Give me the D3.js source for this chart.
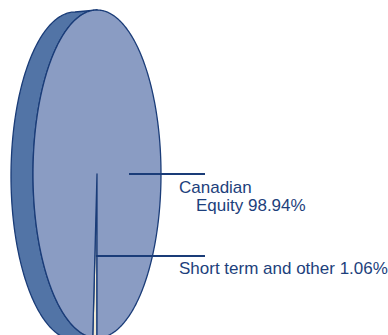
<!DOCTYPE html>
<html>
<head>
<meta charset="utf-8">
<script src="https://cdn.jsdelivr.net/npm/d3@7/dist/d3.min.js"></script>
<style>
  html, body { margin: 0; padding: 0; background: #ffffff; }
  svg { display: block; }
  text { font-family: "Liberation Sans", Arial, sans-serif; font-size: 17px; fill: #1d3f7c; }
</style>
</head>
<body>
<svg id="chart" width="388" height="335"></svg>
<script>
// Portfolio allocation
const categories = ["Short term and other", "Canadian Equity"];
const values = [1.06, 98.94];
const labelLines = [["Short term and other 1.06%"], ["Canadian", "Equity 98.94%"]];

const W = 388, H = 335;
const svg = d3.select("#chart");

// Tilted disc geometry: face ellipse plus a thickness offset to the left
const cx = 97, cy = 174, rx = 64, ry = 164;
const depthX = -22, depthY = 2;

const colors = { face: "#8a9cc3", side: "#5274a6", line: "#1a3c78", sliver: "#ede7d1" };
const sliceFill = ["#ede7d1", "#8a9cc3"];

// Projection of a pie angle (0 = up, clockwise) onto the ellipse
const proj = (a, r = 1, ox = 0, oy = 0) => [cx + ox + r * rx * Math.sin(a), cy + oy - r * ry * Math.cos(a)];

// Side (thickness) of the disc: left halves of back and front rims joined at top/bottom
const sidePts = [];
d3.range(0, 181).forEach(i => sidePts.push(proj(Math.PI * 2 - i * Math.PI / 180, 1, depthX, depthY)));
d3.range(0, 181).forEach(i => sidePts.push(proj(Math.PI + i * Math.PI / 180)));
svg.append("path")
  .attr("d", d3.line()(sidePts) + "Z")
  .attr("fill", colors.side)
  .attr("stroke", colors.line)
  .attr("stroke-width", 1.3)
  .attr("stroke-linejoin", "round");

// Pie slices on the face
const pie = d3.pie().sort(null).startAngle(Math.PI).endAngle(3 * Math.PI);
const arcs = pie(values);

function slicePath(d) {
  const n = Math.max(2, Math.ceil((d.endAngle - d.startAngle) / 0.01));
  const pts = [[cx, cy]];
  d3.range(n + 1).forEach(i => pts.push(proj(d.startAngle + (d.endAngle - d.startAngle) * i / n)));
  return d3.line()(pts) + "Z";
}

svg.append("g").selectAll("path")
  .data(arcs)
  .join("path")
  .attr("d", slicePath)
  .attr("fill", (d, i) => sliceFill[i])
  .attr("stroke", colors.line)
  .attr("stroke-width", 1.3)
  .attr("stroke-linejoin", "round");

// Leader lines and labels
const leaderEndX = 205;
const textX = 179;

// Short term: leader from the slice's mid-angle at half radius
const s = arcs[0];
const sMid = (s.startAngle + s.endAngle) / 2;
const sStart = proj(sMid, 0.5);
svg.append("line")
  .attr("x1", sStart[0]).attr("y1", sStart[1])
  .attr("x2", leaderEndX).attr("y2", sStart[1])
  .attr("stroke", colors.line).attr("stroke-width", 2);
svg.append("text")
  .attr("x", textX).attr("y", sStart[1] + 18)
  .text(labelLines[0][0]);

// Canadian equity: leader from the right half of the face at centre height
const cStart = proj(Math.PI / 2, 0.5);
svg.append("line")
  .attr("x1", cStart[0]).attr("y1", cStart[1])
  .attr("x2", leaderEndX).attr("y2", cStart[1])
  .attr("stroke", colors.line).attr("stroke-width", 2);
svg.append("text")
  .attr("x", textX).attr("y", cStart[1] + 19)
  .text(labelLines[1][0]);
svg.append("text")
  .attr("x", textX + 17).attr("y", cStart[1] + 37)
  .text(labelLines[1][1]);
</script>
</body>
</html>
